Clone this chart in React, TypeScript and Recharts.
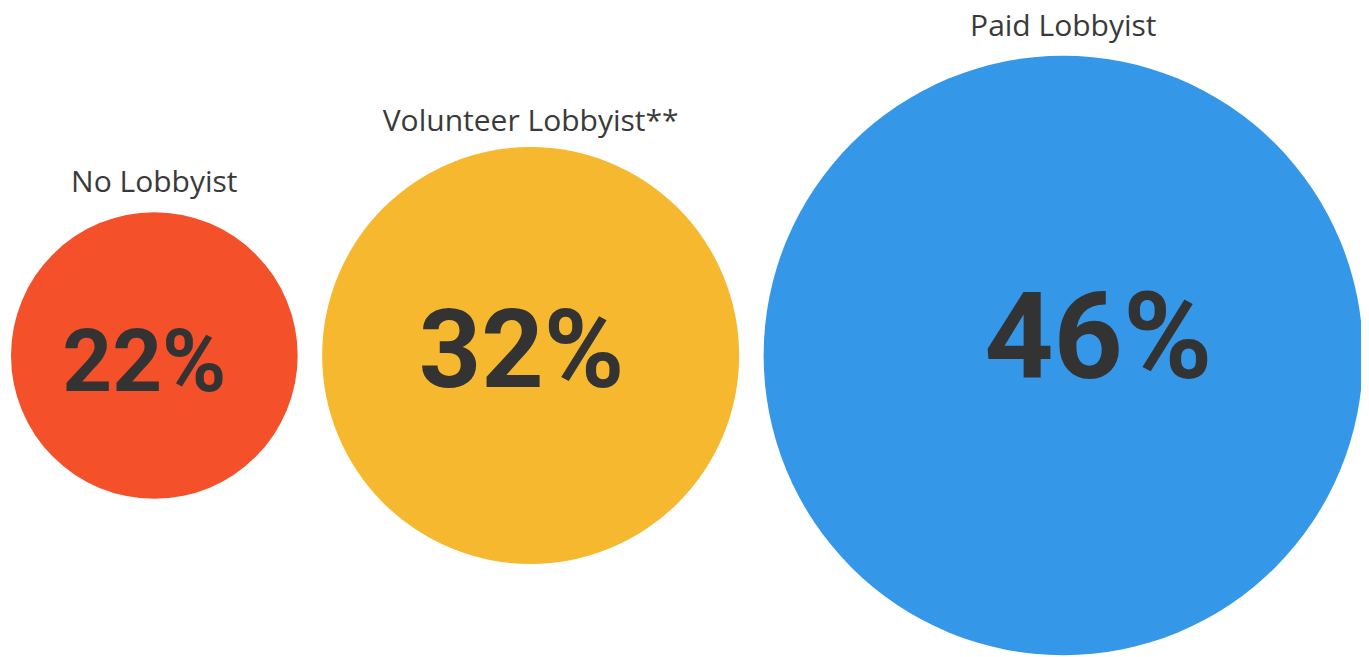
import React from 'react';
import { ScatterChart, Scatter, XAxis, YAxis, ZAxis } from 'recharts';

// ---- data ----
const categories = ['No Lobbyist', 'Volunteer Lobbyist**', 'Paid Lobbyist'];
const shares = [22, 32, 46];
const percentLabels = ['22%', '32%', '46%'];

// ---- styles ----
const colors = ['#F4502A', '#F5B82E', '#3597E8'];
const pctFontSize = [87, 109, 121];
const pctDx = [-10, -9, 35];
const pctDy = [35, 31, 22];
const labelGap = [20, 16, 20];

const CHART_W = 1361;
const CHART_H = 649;
const MARGIN = { top: 46, right: 6, bottom: 0, left: 3 };
const GAP_UNITS = 3.76;

// pack circles side by side (radius proportional to value)
const data = categories.map((name, i) => {
  const before = shares.slice(0, i).reduce((acc, v) => acc + 2 * v + GAP_UNITS, 0);
  return { name, value: shares[i], x: before + shares[i], y: 0, idx: i };
});
const totalUnits = shares.reduce((acc, v) => acc + 2 * v, 0) + GAP_UNITS * (shares.length - 1);
const pxPerUnit = (CHART_W - MARGIN.left - MARGIN.right) / totalUnits;
const maxShare = Math.max(...shares);

const Bubble = (props: any) => {
  const { cx, cy, width, payload } = props;
  const i = payload.idx;
  const r = width / 2;
  return (
    <g>
      <circle cx={cx} cy={cy} r={r} fill={colors[i]} />
      <text
        x={cx}
        y={cy - r - labelGap[i]}
        textAnchor="middle"
        fontFamily="'Open Sans', sans-serif"
        fontSize={30}
        fill="#3a3a3a"
      >
        {categories[i]}
      </text>
      <text
        x={cx + pctDx[i]}
        y={cy + pctDy[i]}
        textAnchor="middle"
        fontFamily="Roboto, sans-serif"
        fontWeight={700}
        fontSize={pctFontSize[i]}
        fill="#333333"
      >
        {percentLabels[i]}
      </text>
    </g>
  );
};

export default function App() {
  return (
    <ScatterChart width={CHART_W} height={CHART_H} margin={MARGIN}>
      <XAxis type="number" dataKey="x" domain={[0, totalUnits]} hide />
      <YAxis type="number" dataKey="y" domain={[-1, 1]} hide />
      <ZAxis
        type="number"
        dataKey={(d: any) => d.value * d.value}
        domain={[0, 'dataMax']}
        range={[0, Math.PI * Math.pow(maxShare * pxPerUnit, 2)]}
      />
      <Scatter data={data} isAnimationActive={false} shape={(p: any) => <Bubble {...p} />} />
    </ScatterChart>
  );
}
